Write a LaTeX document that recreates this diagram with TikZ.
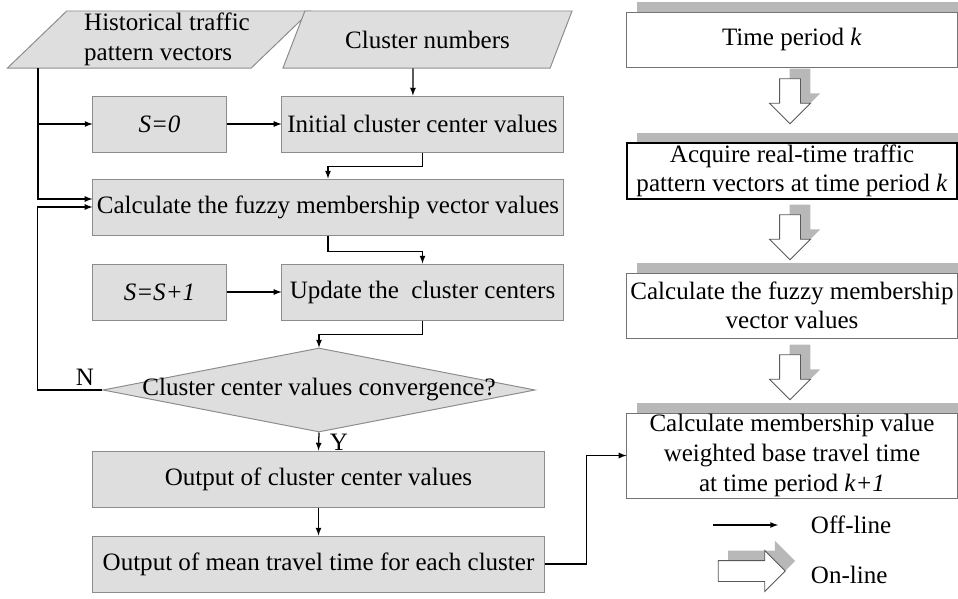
\documentclass[tikz,border=0pt]{standalone}
\usepackage{fontspec}
\setmainfont{Liberation Serif}
\usetikzlibrary{arrows}
\usetikzlibrary{shapes.geometric}
\usetikzlibrary{shapes.arrows}
\usetikzlibrary{shadows}

\tikzset{
  proc/.style={draw=black!45,fill=black!13,line width=0.7pt,inner sep=1pt,minimum height=1.4cm,align=center},
  io/.style={trapezium,trapezium left angle=43,trapezium right angle=137,trapezium stretches body,
    draw=black!45,fill=black!13,line width=0.7pt,inner sep=1pt,minimum height=1.425cm},
  decision/.style={diamond,draw=black!45,fill=black!13,line width=0.7pt,inner sep=0pt,
    minimum width=10.8cm,minimum height=2.1cm},
  online/.style={draw=black!55,fill=white,line width=0.7pt,inner sep=1pt,minimum width=8.25cm,align=center,
    drop shadow={shadow xshift=0.25cm,shadow yshift=0.25cm,fill=black!28,opacity=1}},
  bigarrow/.style={single arrow,draw=black!65,fill=white,line width=0.6pt,inner sep=0.25cm,
    minimum width=1cm,single arrow head extend=0.25cm,minimum height=1.125cm,
    drop shadow={shadow xshift=0.25cm,shadow yshift=0.25cm,fill=black!28,opacity=1}},
  flow/.style={draw,line width=0.9pt,-latex}
}

\begin{document}
\begin{tikzpicture}[x=0.025cm,y=-0.025cm,font=\fontsize{17.8}{21}\selectfont]
\useasboundingbox (0,0) rectangle (958,598);
% off-line clustering
\node[io,minimum width=7.45cm,align=left] (hist) at (159,39.5) {\hspace*{0.4cm}Historical traffic\\\hspace*{0.4cm}pattern vectors};
\node[io,minimum width=7.225cm] (clus) at (427.5,39.5) {Cluster numbers};
\node[proc,minimum width=3.325cm] (s0) at (159.5,124) {\textit{S=0}};
\node[proc,minimum width=7.025cm] (init) at (422.5,124) {Initial cluster center values};
\node[proc,minimum width=11.75cm] (calc) at (328,207) {Calculate the fuzzy membership vector values};
\node[proc,minimum width=3.325cm] (s1) at (159.5,292) {\textit{S=S+1}};
\node[proc,minimum width=7.025cm] (upd) at (422.5,292) {Update the\ \ cluster centers};
\node[decision,label=center:{Cluster center values convergence?}] (conv) at (319,390) {};
\node[proc,minimum width=11.275cm] (out1) at (318.5,479) {Output of cluster center values};
\node[proc,minimum width=11.275cm] (out2) at (318.5,564) {Output of mean travel time for each cluster};
\node (nlab) at (85,377) {N};
\node (ylab) at (339,442) {Y};
\coordinate (hb) at (38,68);

\draw[flow] (hb) |- (s0.west);
\draw[flow] (hb) |- ([yshift=0.2cm]calc.west);
\draw[flow] ([xshift=-0.36cm]clus.south) -- ([xshift=-0.24cm]init.north);
\draw[flow] (s0) -- (init);
\draw[flow] (init.south) -- ++(0,14) -| (calc.north);
\draw[flow] (calc.south) -- ++(0,16) -| (upd.north);
\draw[flow] (s1) -- (upd);
\draw[flow] (upd.south) -- ++(0,14) -| (conv.north);
\draw[flow] (conv.west) -- ++(-65,0) |- (calc.west);
\draw[flow] (conv.south) -- (out1.north);
\draw[flow] (out1) -- (out2);

% on-line prediction
\node[online,minimum height=1.375cm] (tk) at (792,39.5) {Time period \textit{k}};
\node[online,draw=black,line width=1.2pt,minimum height=1.4cm] (acq) at (792,171) {Acquire real-time traffic\\pattern vectors at time period \textit{k}};
\node[online,minimum height=1.625cm] (fuz) at (792,305.5) {Calculate the fuzzy membership\\vector values};
\node[online,minimum height=2.125cm] (wbt) at (792,455.5) {Calculate membership value\\weighted base travel time\\at time period \textit{k+1}};
\node[bigarrow,shape border rotate=270] (ar1) at (790,96) {};
\node[bigarrow,shape border rotate=270] (ar2) at (790,232) {};
\node[bigarrow,shape border rotate=270] (ar3) at (790,372) {};
\draw[flow] (out2.east) -- ++(42,0) |- (wbt.west);

% legend
\coordinate (lg1) at (713,525);
\coordinate (lg2) at (778,525);
\draw[flow] (lg1) -- (lg2);
\node[anchor=west] (offl) at (806,525) {Off-line};
\node[bigarrow,minimum height=1.675cm] (ar4) at (746.5,571) {};
\node[anchor=west] (onl) at (806,575) {On-line};
\end{tikzpicture}
\end{document}
